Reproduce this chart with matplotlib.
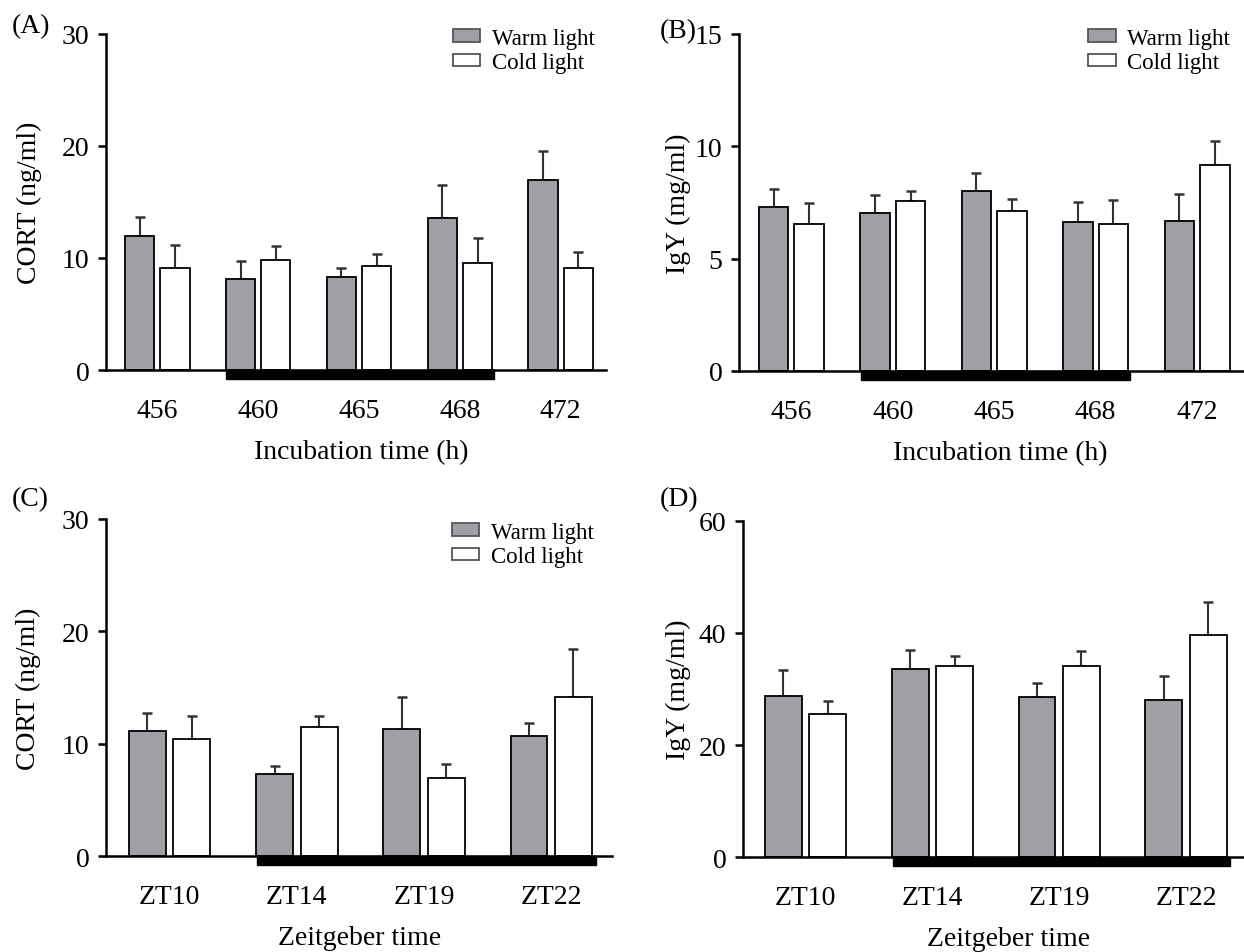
import numpy as np
import matplotlib
matplotlib.use('Agg')
import matplotlib.pyplot as plt
from matplotlib.patches import Rectangle

plt.rcParams['font.family'] = 'serif'
plt.rcParams['font.serif'] = ['Liberation Serif', 'DejaVu Serif']
plt.rcParams['font.size'] = 20

# Data (mean, upper error bar length)
incubation_labels = ['456', '460', '465', '468', '472']
zeitgeber_labels = ['ZT10', 'ZT14', 'ZT19', 'ZT22']

a_warm = [12.0, 8.1, 8.3, 13.6, 17.0]
a_warm_err = [1.65, 1.6, 0.85, 2.9, 2.55]
a_cold = [9.15, 9.85, 9.25, 9.55, 9.15]
a_cold_err = [2.05, 1.2, 1.1, 2.25, 1.4]

b_warm = [7.32, 7.02, 8.01, 6.65, 6.68]
b_warm_err = [0.77, 0.8, 0.8, 0.87, 1.18]
b_cold = [6.55, 7.56, 7.10, 6.55, 9.18]
b_cold_err = [0.91, 0.47, 0.55, 1.05, 1.05]

c_warm = [11.1, 7.3, 11.3, 10.7]
c_warm_err = [1.65, 0.7, 2.9, 1.15]
c_cold = [10.4, 11.5, 6.95, 14.15]
c_cold_err = [2.1, 0.95, 1.3, 4.25]

d_warm = [28.7, 33.6, 28.5, 28.0]
d_warm_err = [4.75, 3.4, 2.5, 4.3]
d_cold = [25.6, 34.2, 34.15, 39.6]
d_cold_err = [2.2, 1.7, 2.7, 5.9]

# dark period (black bar under the axis), in group-index units
dark_incubation = (0.685, 3.34)
dark_zeitgeber = (0.69, 3.35)

WARM = '#a09fa5'
COLD = 'white'


def draw_panel(ax, labels, warm, warm_err, cold, cold_err, ymax, yticks,
               ylabel, xlabel, dark, xlim, legend_at=None):
    x = np.arange(len(labels))
    w = 0.29
    off = 0.175
    ax.bar(x - off, warm, w, color=WARM, edgecolor='black', linewidth=1.3,
           label='Warm light', zorder=2)
    ax.bar(x + off, cold, w, color=COLD, edgecolor='black', linewidth=1.3,
           label='Cold light', zorder=2)
    ax.errorbar(x - off, warm, yerr=[np.zeros(len(x)), warm_err], fmt='none',
                ecolor='#333333', elinewidth=1.5, capsize=3.5, capthick=1.8, zorder=1)
    ax.errorbar(x + off, cold, yerr=[np.zeros(len(x)), cold_err], fmt='none',
                ecolor='#333333', elinewidth=1.5, capsize=3.5, capthick=1.8, zorder=1)

    ax.set_xlim(*xlim)
    ax.set_ylim(0, ymax)
    ax.set_yticks(yticks)
    ax.set_xticks(x)
    ax.set_xticklabels(labels)
    ax.tick_params(axis='x', length=0, pad=20)
    ax.tick_params(axis='y', length=6, width=1.8, pad=6)
    for s in ['top', 'right']:
        ax.spines[s].set_visible(False)
    ax.spines['left'].set_linewidth(1.8)
    ax.spines['bottom'].set_linewidth(1.8)

    # black bar marking the dark period
    ax.add_patch(Rectangle((dark[0], -0.026), dark[1] - dark[0], 0.026,
                           transform=ax.get_xaxis_transform(), color='black',
                           clip_on=False, zorder=3))

    ax.set_ylabel(ylabel)
    ax.set_xlabel(xlabel)
    if legend_at is not None:
        leg = ax.legend(loc='upper right', bbox_to_anchor=legend_at, frameon=False,
                        handlelength=1.2, handleheight=0.45, handletextpad=0.5,
                        labelspacing=0.14, fontsize=16.5)
        for h in leg.legend_handles:
            h.set_edgecolor('#555555')
    return ax


fig = plt.figure(figsize=(12.44, 9.53), dpi=100)

axA = fig.add_axes([0.0852, 0.6107, 0.402, 0.3526])
axB = fig.add_axes([0.594, 0.6097, 0.405, 0.3536])
axC = fig.add_axes([0.0852, 0.1004, 0.407, 0.354])
axD = fig.add_axes([0.5973, 0.0994, 0.402, 0.353])

draw_panel(axA, incubation_labels, a_warm, a_warm_err, a_cold, a_cold_err,
           30, [0, 10, 20, 30], 'CORT (ng/ml)', 'Incubation time (h)',
           dark_incubation, (-0.51, 4.45), legend_at=(1.018, 1.08))
draw_panel(axB, incubation_labels, b_warm, b_warm_err, b_cold, b_cold_err,
           15, [0, 5, 10, 15], 'IgY (mg/ml)', 'Incubation time (h)',
           dark_incubation, (-0.517, 4.45), legend_at=(1.016, 1.08))
draw_panel(axC, zeitgeber_labels, c_warm, c_warm_err, c_cold, c_cold_err,
           30, [0, 10, 20, 30], 'CORT (ng/ml)', 'Zeitgeber time',
           dark_zeitgeber, (-0.50, 3.48), legend_at=(1.004, 1.053))
draw_panel(axD, zeitgeber_labels, d_warm, d_warm_err, d_cold, d_cold_err,
           60, [0, 20, 40, 60], 'IgY (mg/ml)', 'Zeitgeber time',
           dark_zeitgeber, (-0.494, 3.45))

axA.yaxis.set_label_coords(-0.128, 0.5)
axB.yaxis.set_label_coords(-0.095, 0.5)
axC.yaxis.set_label_coords(-0.128, 0.5)
axD.yaxis.set_label_coords(-0.104, 0.5)
axA.xaxis.set_label_coords(0.51, -0.205)
axB.xaxis.set_label_coords(0.518, -0.205)
axC.xaxis.set_label_coords(0.50, -0.205)
axD.xaxis.set_label_coords(0.53, -0.205)

fig.text(12 / 1244, 1 - 27 / 953, '(A)', va='center', ha='left')
fig.text(660 / 1244, 1 - 32 / 953, '(B)', va='center', ha='left')
fig.text(12 / 1244, 1 - 500 / 953, '(C)', va='center', ha='left')
fig.text(660 / 1244, 1 - 500 / 953, '(D)', va='center', ha='left')

fig.savefig('out.png', dpi=100)
